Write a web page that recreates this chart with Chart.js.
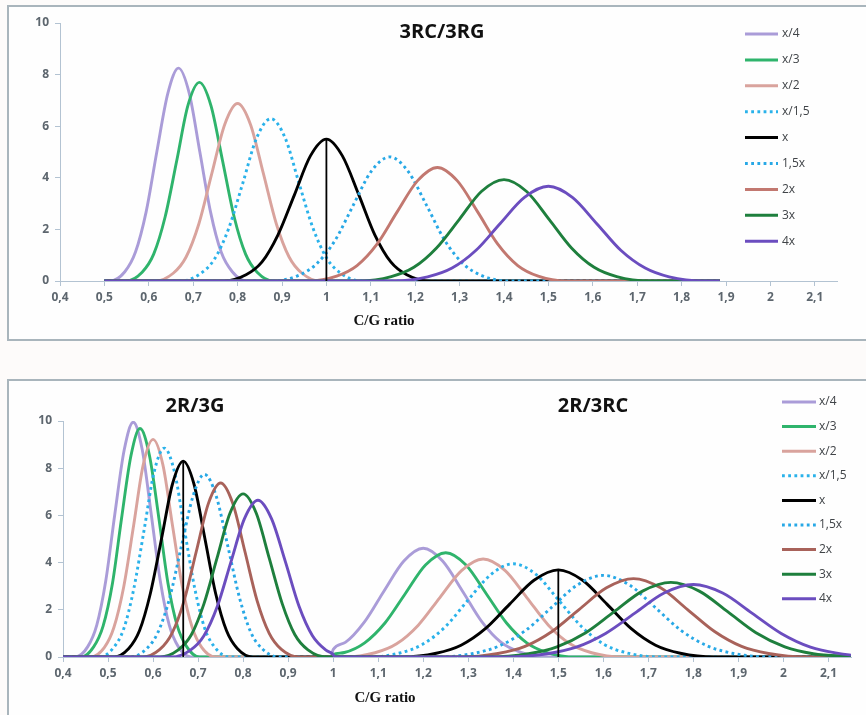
<!DOCTYPE html>
<html>
<head>
<meta charset="utf-8">
<script src="https://cdn.jsdelivr.net/npm/chart.js@4.4.1/dist/chart.umd.min.js"></script>
<style>
    html, body { margin: 0; padding: 0; background: #fdfbfa; overflow: hidden; }
    body { width: 866px; height: 715px; position: relative; }
    .panel { position: absolute; box-sizing: border-box; border: 2px solid #a9b5bc; background: #fefefe; }
    #topPanel { left: 7px; top: 5px; width: 880px; height: 336px; }
    #bottomPanel { left: 7px; top: 379px; width: 880px; height: 400px; }
    canvas { position: absolute; left: 0; }
    #topChart { top: 0; }
    #bottomChart { top: 370px; }
</style>
</head>
<body>
<div class="panel" id="topPanel"></div>
<div class="panel" id="bottomPanel"></div>
<canvas id="topChart" width="866" height="360"></canvas>
<canvas id="bottomChart" width="866" height="345"></canvas>
<script>
// ===========================
// Data
// ===========================

const seriesLabels = ['x/4', 'x/3', 'x/2', 'x/1,5', 'x', '1,5x', '2x', '3x', '4x'];
const xTicksMin = 0.4;
const xTicksMax = 2.15;
const yTicks = [0, 2, 4, 6, 8, 10];

// 3RC/3RG panel
const topXs = [
    [0.5, 0.512, 0.546, 0.570, 0.594, 0.618, 0.643, 0.667, 0.691, 0.715, 0.739, 0.763, 0.788, 0.821, 1.886],
    [0.5, 0.549, 0.585, 0.611, 0.637, 0.663, 0.688, 0.714, 0.740, 0.766, 0.792, 0.818, 0.844, 0.880, 1.886],
    [0.5, 0.614, 0.655, 0.684, 0.713, 0.742, 0.771, 0.800, 0.829, 0.858, 0.887, 0.916, 0.945, 0.986, 1.886],
    [0.5, 0.672, 0.716, 0.748, 0.780, 0.812, 0.843, 0.875, 0.907, 0.938, 0.970, 1.002, 1.034, 1.078, 1.886],
    [0.5, 0.768, 0.819, 0.855, 0.891, 0.928, 0.964, 1.000, 1.036, 1.073, 1.109, 1.145, 1.181, 1.232, 1.886],
    [0.5, 0.878, 0.936, 0.977, 1.019, 1.060, 1.101, 1.143, 1.184, 1.226, 1.267, 1.309, 1.350, 1.408, 1.886],
    [0.5, 0.960, 1.023, 1.069, 1.114, 1.159, 1.205, 1.250, 1.295, 1.341, 1.386, 1.431, 1.477, 1.540, 1.886],
    [0.5, 1.075, 1.146, 1.197, 1.248, 1.299, 1.349, 1.400, 1.451, 1.502, 1.552, 1.603, 1.654, 1.725, 1.886],
    [0.5, 1.152, 1.228, 1.283, 1.337, 1.391, 1.446, 1.500, 1.554, 1.609, 1.663, 1.718, 1.772, 1.848, 1.886]
];
const topYs = [
    [0, 0, 0.36, 1.12, 2.68, 5.00, 7.28, 8.25, 7.28, 5.00, 2.68, 1.12, 0.36, 0, 0],
    [0, 0, 0.34, 1.04, 2.50, 4.67, 6.80, 7.70, 6.80, 4.67, 2.50, 1.04, 0.34, 0, 0],
    [0, 0, 0.30, 0.93, 2.23, 4.17, 6.07, 6.88, 6.07, 4.17, 2.23, 0.93, 0.30, 0, 0],
    [0, 0, 0.28, 0.85, 2.04, 3.81, 5.55, 6.29, 5.55, 3.81, 2.04, 0.85, 0.28, 0, 0],
    [0, 0, 0.24, 0.74, 1.79, 3.34, 4.85, 5.50, 4.85, 3.34, 1.79, 0.74, 0.24, 0, 0],
    [0, 0, 0.21, 0.65, 1.56, 2.92, 4.25, 4.81, 4.25, 2.92, 1.56, 0.65, 0.21, 0, 0],
    [0, 0, 0.19, 0.60, 1.43, 2.67, 3.88, 4.40, 3.88, 2.67, 1.43, 0.60, 0.19, 0, 0],
    [0, 0, 0.17, 0.53, 1.28, 2.38, 3.47, 3.93, 3.47, 2.38, 1.28, 0.53, 0.17, 0, 0],
    [0, 0, 0.16, 0.50, 1.19, 2.22, 3.24, 3.67, 3.24, 2.22, 1.19, 0.50, 0.16, 0, 0]
];
const topMarkerX = [1.0, 1.0];
const topMarkerY = [0, 5.5];

// 2R/3G + 2R/3RC panel
const bottomXs = [
    [0.4, 0.427, 0.455, 0.475, 0.495, 0.515, 0.536, 0.556, 0.576, 0.596, 0.616, 0.636, 0.656, 0.684,
     0.995, 1.000, 1.027, 1.070, 1.113, 1.157, 1.200, 1.243, 1.287, 1.330, 1.373, 1.417, 1.477, 2.15],
    [0.4, 0.440, 0.468, 0.489, 0.510, 0.530, 0.551, 0.571, 0.592, 0.613, 0.633, 0.654, 0.675, 0.703,
     0.995, 1.000, 1.025, 1.070, 1.115, 1.160, 1.205, 1.250, 1.295, 1.340, 1.385, 1.430, 1.475, 1.539, 2.15],
    [0.4, 0.461, 0.492, 0.513, 0.535, 0.557, 0.578, 0.600, 0.622, 0.643, 0.665, 0.687, 0.708, 0.739,
     1.026, 1.093, 1.141, 1.189, 1.237, 1.285, 1.333, 1.382, 1.430, 1.478, 1.526, 1.574, 1.641, 2.15],
    [0.4, 0.481, 0.512, 0.535, 0.557, 0.580, 0.602, 0.625, 0.648, 0.670, 0.693, 0.715, 0.738, 0.769,
     1.077, 1.148, 1.198, 1.249, 1.299, 1.350, 1.400, 1.451, 1.501, 1.552, 1.602, 1.653, 1.723, 2.15],
    [0.4, 0.513, 0.546, 0.570, 0.594, 0.619, 0.643, 0.667, 0.691, 0.715, 0.739, 0.763, 0.787, 0.821,
     1.154, 1.229, 1.284, 1.338, 1.392, 1.446, 1.500, 1.554, 1.608, 1.662, 1.716, 1.771, 1.846, 2.15],
    [0.4, 0.549, 0.585, 0.611, 0.637, 0.663, 0.689, 0.714, 0.740, 0.766, 0.792, 0.817, 0.843, 0.879,
     1.231, 1.311, 1.369, 1.427, 1.485, 1.542, 1.600, 1.658, 1.715, 1.773, 1.831, 1.889, 1.969, 2.15],
    [0.4, 0.577, 0.615, 0.642, 0.669, 0.696, 0.723, 0.750, 0.777, 0.804, 0.831, 0.858, 0.885, 0.923,
     1.282, 1.366, 1.426, 1.486, 1.546, 1.607, 1.667, 1.727, 1.787, 1.847, 1.907, 1.967, 2.051, 2.15],
    [0.4, 0.615, 0.656, 0.685, 0.713, 0.742, 0.771, 0.800, 0.829, 0.858, 0.887, 0.915, 0.944, 0.985,
     1.346, 1.434, 1.497, 1.561, 1.624, 1.687, 1.750, 1.813, 1.876, 1.939, 2.003, 2.066, 2.15],
    [0.4, 0.641, 0.683, 0.713, 0.743, 0.773, 0.803, 0.833, 0.863, 0.894, 0.924, 0.954, 0.984, 0.998, 1.005,
     1.384, 1.475, 1.540, 1.605, 1.670, 1.735, 1.800, 1.865, 1.930, 1.995, 2.060, 2.125, 2.15]
];
const bottomYs = [
    [0, 0, 0.44, 1.35, 3.23, 6.04, 8.78, 9.95, 8.78, 6.04, 3.23, 1.35, 0.44, 0,
     0, 0.32, 0.62, 1.50, 2.80, 4.07, 4.61, 4.07, 2.80, 1.50, 0.62, 0.20, 0, 0],
    [0, 0, 0.43, 1.31, 3.14, 5.87, 8.54, 9.68, 8.54, 5.87, 3.14, 1.31, 0.43, 0,
     0, 0.10, 0.19, 0.60, 1.44, 2.68, 3.90, 4.42, 3.90, 2.68, 1.44, 0.60, 0.19, 0, 0],
    [0, 0, 0.41, 1.25, 2.99, 5.59, 8.13, 9.22, 8.13, 5.59, 2.99, 1.25, 0.41, 0,
     0, 0.18, 0.56, 1.35, 2.52, 3.66, 4.15, 3.66, 2.52, 1.35, 0.56, 0.18, 0, 0],
    [0, 0, 0.39, 1.20, 2.87, 5.37, 7.81, 8.85, 7.81, 5.37, 2.87, 1.20, 0.39, 0,
     0, 0.17, 0.53, 1.28, 2.40, 3.49, 3.95, 3.49, 2.40, 1.28, 0.53, 0.17, 0, 0],
    [0, 0, 0.36, 1.12, 2.69, 5.03, 7.32, 8.30, 7.32, 5.03, 2.69, 1.12, 0.36, 0,
     0, 0.16, 0.50, 1.20, 2.24, 3.25, 3.69, 3.25, 2.24, 1.20, 0.50, 0.16, 0, 0],
    [0, 0, 0.34, 1.05, 2.51, 4.70, 6.83, 7.74, 6.83, 4.70, 2.51, 1.05, 0.34, 0,
     0, 0.15, 0.47, 1.12, 2.10, 3.05, 3.46, 3.05, 2.10, 1.12, 0.47, 0.15, 0, 0],
    [0, 0, 0.32, 1.00, 2.39, 4.47, 6.51, 7.37, 6.51, 4.47, 2.39, 1.00, 0.32, 0,
     0, 0.15, 0.45, 1.08, 2.01, 2.93, 3.32, 2.93, 2.01, 1.08, 0.45, 0.15, 0, 0],
    [0, 0, 0.30, 0.94, 2.25, 4.19, 6.10, 6.91, 6.10, 4.19, 2.25, 0.94, 0.30, 0,
     0, 0.14, 0.43, 1.03, 1.92, 2.79, 3.16, 2.79, 1.92, 1.03, 0.43, 0.14, 0.02],
    [0, 0, 0.29, 0.90, 2.16, 4.03, 5.86, 6.64, 5.86, 4.03, 2.16, 0.90, 0.29, 0.14, 0,
     0, 0.14, 0.42, 1.00, 1.86, 2.71, 3.07, 2.71, 1.86, 1.00, 0.42, 0.14, 0.08]
];
const bottomMarkerX = [[0.667, 0.667], [1.5, 1.5]];
const bottomMarkerY = [[0, 8.3], [0, 3.69]];

// ===========================
// Styles
// ===========================

const topColors = ['#aa9cd8', '#2fb46c', '#d9a39d', '#2ab2ea', '#000000', '#27a8e6', '#c27870', '#1e7f3d', '#6b4dbf'];
const bottomColors = ['#aa9cd8', '#2fb46c', '#d9a39d', '#2ab2ea', '#000000', '#27a8e6', '#a8625a', '#1e7f3d', '#6b4dbf'];
const dottedSeries = [3, 5];
const axisColor = '#b3c3d2';
const tickFont = { family: "'Open Sans', sans-serif", size: 12, weight: 'bold' };
const tickColor = '#5d666e';

function fmtTick(v) {
    return (Math.round(v * 10) / 10).toString().replace('.', ',');
}

function buildSeries(xs, ys, colors) {
    const sets = xs.map((xArr, i) => ({
        label: seriesLabels[i],
        data: xArr.map((x, j) => ({ x: x, y: ys[i][j] })),
        borderColor: colors[i],
        borderWidth: 2.9,
        borderDash: dottedSeries.includes(i) ? [2.8, 3.4] : [],
        pointRadius: 0,
        cubicInterpolationMode: 'monotone',
        fill: false,
        order: xs.length - i + 1
    }));
    return sets;
}

function markerSet(xArr, yArr) {
    return {
        label: '',
        data: xArr.map((x, j) => ({ x: x, y: yArr[j] })),
        borderColor: '#000000',
        borderWidth: 1.8,
        pointRadius: 0,
        tension: 0,
        fill: false,
        order: 0
    };
}

// ===========================
// Plugins: legend & free text
// ===========================

const sideLegend = {
    id: 'sideLegend',
    afterDraw(chart, args, opts) {
        const ctx = chart.ctx;
        ctx.save();
        ctx.font = "12px 'Open Sans', sans-serif";
        ctx.textBaseline = 'middle';
        seriesLabels.forEach((lab, i) => {
            const y = opts.y0 + i * opts.dy;
            ctx.beginPath();
            ctx.strokeStyle = opts.colors[i];
            ctx.lineWidth = 3;
            ctx.setLineDash(dottedSeries.includes(i) ? [2.8, 3.4] : []);
            ctx.moveTo(opts.x1, y);
            ctx.lineTo(opts.x2, y);
            ctx.stroke();
            ctx.setLineDash([]);
            ctx.fillStyle = '#404448';
            ctx.fillText(lab, opts.tx, y);
        });
        ctx.restore();
    }
};

const freeText = {
    id: 'freeText',
    afterDraw(chart, args, opts) {
        const ctx = chart.ctx;
        ctx.save();
        ctx.textAlign = 'center';
        ctx.textBaseline = 'middle';
        opts.items.forEach(it => {
            ctx.font = it.font;
            ctx.fillStyle = it.color || '#111111';
            ctx.fillText(it.text, it.x, it.y);
        });
        ctx.restore();
    }
};

function scalesConfig(yWidth) {
    return {
        x: {
            type: 'linear',
            min: xTicksMin,
            max: xTicksMax,
            afterFit: s => { s.height = 30; },
            border: { color: axisColor, width: 1 },
            grid: { drawOnChartArea: false, drawTicks: true, tickLength: 5, color: axisColor },
            ticks: {
                stepSize: 0.1,
                includeBounds: false,
                autoSkip: false,
                maxRotation: 0,
                padding: 4,
                color: tickColor,
                font: tickFont,
                callback: v => fmtTick(v)
            }
        },
        y: {
            min: 0,
            max: 10,
            afterFit: s => { s.width = yWidth; },
            afterBuildTicks: s => { s.ticks = yTicks.map(v => ({ value: v })); },
            border: { color: axisColor, width: 1 },
            grid: { drawOnChartArea: false, drawTicks: true, tickLength: 5, color: axisColor },
            ticks: { padding: 6, color: tickColor, font: tickFont }
        }
    };
}

const titleFont = "bold 20px 'Open Sans', sans-serif";
const axisTitleFont = "bold 15px 'Liberation Serif', 'Times New Roman', serif";

// ===========================
// Charts
// ===========================

new Chart(document.getElementById('topChart'), {
    type: 'line',
    data: { datasets: buildSeries(topXs, topYs, topColors).concat([markerSet(topMarkerX, topMarkerY)]) },
    options: {
        responsive: false,
        animation: false,
        layout: { padding: { left: 0, top: 23, right: 29, bottom: 49 } },
        plugins: {
            legend: { display: false },
            tooltip: { enabled: false },
            sideLegend: { x1: 745, x2: 778, tx: 782, y0: 34, dy: 25.9, colors: topColors },
            freeText: {
                items: [
                    { text: '3RC/3RG', x: 442, y: 32, font: titleFont },
                    { text: 'C/G ratio', x: 384, y: 321, font: axisTitleFont }
                ]
            }
        },
        scales: scalesConfig(60)
    },
    plugins: [sideLegend, freeText]
});

new Chart(document.getElementById('bottomChart'), {
    type: 'line',
    data: {
        datasets: buildSeries(bottomXs, bottomYs, bottomColors).concat([
            markerSet(bottomMarkerX[0], bottomMarkerY[0]),
            markerSet(bottomMarkerX[1], bottomMarkerY[1])
        ])
    },
    options: {
        responsive: false,
        animation: false,
        layout: { padding: { left: 0, top: 51, right: 15, bottom: 28 } },
        plugins: {
            legend: { display: false },
            tooltip: { enabled: false },
            sideLegend: { x1: 782, x2: 816, tx: 819, y0: 32, dy: 24.6, colors: bottomColors },
            freeText: {
                items: [
                    { text: '2R/3G', x: 195, y: 36, font: titleFont },
                    { text: '2R/3RC', x: 593, y: 36, font: titleFont },
                    { text: 'C/G ratio', x: 385, y: 328, font: axisTitleFont }
                ]
            }
        },
        scales: scalesConfig(63)
    },
    plugins: [sideLegend, freeText]
});
</script>
</body>
</html>
